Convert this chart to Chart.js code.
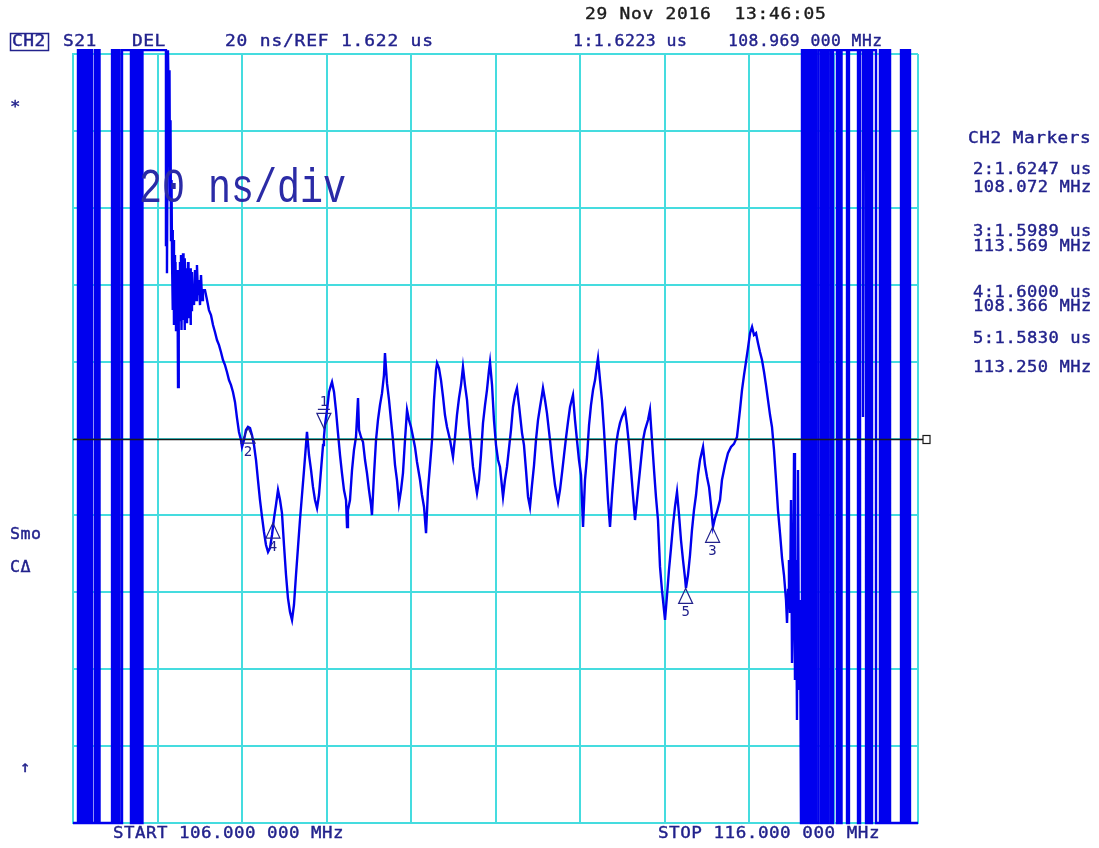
<!DOCTYPE html>
<html>
<head>
<meta charset="utf-8">
<script src="https://cdn.jsdelivr.net/npm/chart.js@4.4.0/dist/chart.umd.min.js"></script>
<style>
html, body { margin: 0; background: #fff; }
canvas { display: block; }
</style>
</head>
<body>
<canvas id="delayChart" width="1099" height="848"></canvas>
<script>
// Sweep / scale settings shown on the screen
const startMHz = 106;
const stopMHz = 116;
const refNs = 1622;
const nsPerDiv = 20;

// Left edge: trace off-scale, swinging between top and bottom of the screen
const leftNoiseMHz = [
  106.000,106.059,106.059,106.077,106.077,106.095,106.095,106.112,106.112,106.130,
  106.130,106.148,106.148,106.166,106.166,106.183,106.183,106.201,106.201,106.225,
  106.225,106.260,106.260,106.278,106.278,106.296,106.296,106.314,106.314,106.462,
  106.462,106.479,106.479,106.497,106.497,106.515,106.515,106.533,106.533,106.550,
  106.550,106.580,106.580,106.686,106.686,106.710,106.710,106.734,106.734,106.751,
  106.751,106.769,106.769,106.787,106.787,106.805,106.805,106.822,106.822,107.100,
  107.100,107.112,107.112,107.124
];
const leftNoiseNs = [
  1522,1522,1723,1723,1522,1522,1723,1723,1522,1522,
  1723,1723,1522,1522,1723,1723,1522,1522,1723,1723,
  1522,1522,1723,1723,1522,1522,1723,1723,1522,1522,
  1723,1723,1522,1522,1723,1723,1522,1522,1723,1723,
  1522,1522,1723,1723,1522,1522,1723,1723,1522,1522,
  1723,1723,1522,1522,1723,1723,1522,1522,1723,1723,
  1672,1723,1665,1723
];

// Passband group delay trace (ns)
const traceMHz = [
  107.130,107.136,107.142,107.148,107.154,107.160,107.166,107.172,107.178,107.183,
  107.189,107.195,107.201,107.207,107.213,107.219,107.225,107.231,107.237,107.243,
  107.249,107.254,107.260,107.266,107.272,107.278,107.284,107.290,107.296,107.302,
  107.308,107.314,107.320,107.325,107.331,107.337,107.343,107.349,107.355,107.361,
  107.367,107.373,107.379,107.385,107.391,107.396,107.402,107.408,107.414,107.420,
  107.432,107.444,107.456,107.467,107.479,107.491,107.503,107.515,107.527,107.538,
  107.562,107.586,107.609,107.633,107.657,107.680,107.704,107.728,107.751,107.775,
  107.799,107.822,107.846,107.870,107.893,107.917,107.941,107.964,107.988,108.000,
  108.024,108.047,108.071,108.095,108.118,108.142,108.166,108.189,108.213,108.237,
  108.260,108.284,108.308,108.331,108.355,108.379,108.402,108.426,108.450,108.473,
  108.497,108.521,108.544,108.568,108.592,108.615,108.639,108.663,108.686,108.710,
  108.734,108.757,108.769,108.793,108.817,108.840,108.864,108.888,108.911,108.935,
  108.959,108.970,108.982,109.006,109.030,109.053,109.065,109.089,109.112,109.136,
  109.160,109.183,109.207,109.231,109.243,109.254,109.278,109.302,109.325,109.349,
  109.373,109.385,109.408,109.432,109.456,109.479,109.503,109.527,109.538,109.562,
  109.586,109.609,109.633,109.657,109.680,109.692,109.716,109.740,109.763,109.787,
  109.811,109.834,109.858,109.882,109.905,109.929,109.953,109.976,110.000,110.024,
  110.047,110.071,110.107,110.130,110.154,110.178,110.201,110.225,110.249,110.272,
  110.296,110.308,110.331,110.355,110.379,110.402,110.426,110.462,110.497,110.521,
  110.544,110.568,110.592,110.615,110.639,110.663,110.686,110.710,110.734,110.757,
  110.781,110.805,110.828,110.852,110.876,110.899,110.923,110.935,110.959,110.982,
  111.006,111.030,111.053,111.089,111.112,111.136,111.160,111.183,111.207,111.231,
  111.254,111.278,111.314,111.337,111.361,111.385,111.408,111.432,111.456,111.479,
  111.503,111.527,111.550,111.562,111.586,111.609,111.645,111.669,111.704,111.740,
  111.763,111.787,111.811,111.834,111.858,111.882,111.917,111.941,111.964,111.988,
  112.012,112.036,112.059,112.083,112.107,112.130,112.154,112.178,112.201,112.213,
  112.237,112.260,112.284,112.308,112.331,112.355,112.379,112.402,112.426,112.450,
  112.473,112.497,112.533,112.556,112.580,112.604,112.627,112.651,112.675,112.698,
  112.722,112.746,112.769,112.805,112.828,112.852,112.876,112.899,112.923,112.947,
  112.970,112.982,113.006,113.030,113.053,113.077,113.101,113.124,113.148,113.172,
  113.195,113.219,113.243,113.254,113.278,113.302,113.325,113.349,113.373,113.396,
  113.420,113.456,113.479,113.503,113.527,113.550,113.574,113.598,113.621,113.657,
  113.680,113.716,113.751,113.787,113.822,113.858,113.893,113.917,113.941,113.964,
  113.988,114.012,114.036,114.059,114.083,114.107,114.130,114.154,114.178,114.201,
  114.225,114.249,114.272,114.296,114.320,114.343,114.367,114.391,114.414,114.438,
  114.450,114.462,114.473,114.485,114.497,114.509,114.521,114.533,114.544,114.556,
  114.568,114.580,114.592,114.604,114.615
];
const traceNs = [
  1712.6,1697.0,1717.8,1684.0,1704.8,1673.6,1689.2,1668.4,1676.2,1655.4,
  1673.6,1651.5,1669.7,1658.0,1667.9,1650.2,1665.8,1656.7,1660.6,1635.4,
  1658.0,1665.8,1652.8,1667.9,1655.4,1669.7,1650.2,1667.1,1658.0,1670.2,
  1652.8,1664.5,1650.2,1668.9,1656.7,1666.3,1652.3,1663.7,1658.0,1667.9,
  1653.3,1664.5,1659.3,1666.3,1651.5,1663.2,1655.4,1665.3,1658.0,1661.9,
  1656.7,1665.8,1658.0,1667.1,1659.3,1663.2,1656.7,1664.5,1658.0,1660.6,
  1660.6,1658.0,1655.4,1654.1,1651.5,1649.7,1647.6,1646.3,1644.5,1642.4,
  1641.1,1639.3,1637.2,1635.9,1634.1,1631.5,1627.3,1623.7,1621.6,1619.8,
  1621.6,1624.2,1625.0,1624.7,1622.9,1620.3,1616.4,1611.2,1606.0,1601.6,
  1597.7,1594.3,1592.5,1593.5,1596.9,1601.3,1604.7,1608.6,1606.0,1602.6,
  1594.3,1586.5,1580.5,1576.9,1574.8,1578.7,1586.5,1593.8,1600.8,1607.3,
  1613.8,1620.3,1623.7,1617.7,1613.8,1609.4,1606.0,1603.9,1607.3,1613.8,
  1620.3,1622.4,1625.5,1629.4,1634.1,1635.9,1636.7,1634.1,1629.4,1623.4,
  1617.7,1613.0,1608.6,1606.0,1599.0,1603.4,1606.0,1613.8,1619.0,1622.4,
  1632.5,1624.2,1622.4,1621.1,1616.4,1613.0,1608.6,1604.7,1602.1,1612.5,
  1621.6,1626.8,1630.7,1633.8,1638.5,1644.2,1636.4,1632.0,1626.8,1621.6,
  1615.1,1611.2,1605.2,1608.6,1613.0,1621.6,1629.4,1626.8,1625.0,1622.4,
  1619.8,1615.9,1611.2,1607.3,1604.2,1597.4,1608.6,1615.1,1621.6,1632.0,
  1639.8,1641.6,1640.3,1637.2,1632.8,1628.1,1625.0,1621.6,1617.2,1622.4,
  1628.1,1632.5,1635.9,1640.6,1635.9,1632.0,1625.5,1620.3,1614.6,1611.2,
  1607.8,1611.2,1617.7,1626.0,1630.7,1634.6,1639.8,1641.9,1635.9,1626.8,
  1620.3,1616.4,1614.6,1606.8,1611.2,1614.6,1619.5,1624.2,1630.2,1633.3,
  1635.1,1630.7,1623.4,1620.3,1613.8,1606.8,1604.2,1609.9,1615.1,1621.6,
  1626.8,1630.2,1633.3,1635.1,1632.0,1628.6,1621.6,1616.4,1609.9,1605.5,
  1608.6,1613.0,1617.7,1622.1,1626.3,1630.2,1633.3,1626.8,1621.6,1616.4,
  1612.5,1599.0,1611.2,1617.2,1625.5,1630.7,1634.6,1637.2,1641.1,1642.9,
  1637.2,1632.0,1624.2,1615.1,1606.0,1599.0,1607.3,1613.8,1620.3,1623.7,
  1626.0,1627.6,1629.4,1625.5,1620.3,1613.8,1607.3,1600.8,1606.0,1611.2,
  1616.4,1621.6,1624.2,1626.8,1629.4,1621.6,1613.8,1606.8,1600.8,1588.6,
  1582.6,1580.0,1574.8,1581.3,1587.8,1593.5,1599.5,1604.2,1608.1,1602.1,
  1595.6,1590.4,1585.7,1583.1,1586.5,1591.7,1598.2,1603.4,1607.3,1612.5,
  1616.4,1619.8,1615.1,1612.0,1609.4,1604.7,1599.0,1601.3,1602.9,1606.0,
  1611.2,1615.1,1618.2,1619.8,1620.6,1622.4,1629.4,1634.6,1638.5,1641.9,
  1645.5,1649.4,1651.0,1648.9,1649.4,1646.8,1644.5,1642.4,1639.3,1635.9,
  1632.0,1628.1,1625.0,1619.0,1611.2,1603.4,1597.4,1590.9,1586.5,1580.0,
  1574.0,1582.6,1590.4,1576.6,1606.0,1563.6,1580.0,1618.2,1559.2,1590.4,
  1548.8,1613.8,1556.6,1580.0,1522.0
];

// Right edge: trace off-scale again
const rightNoiseMHz = [
  114.627,114.627,114.651,114.651,114.669,114.669,114.686,114.686,114.704,114.704,
  114.722,114.722,114.740,114.740,114.757,114.757,114.775,114.775,114.793,114.793,
  114.822,114.822,114.852,114.852,114.870,114.870,114.888,114.888,114.905,114.905,
  114.923,114.923,114.941,114.941,114.970,114.970,114.994,114.994,115.041,115.041,
  115.059,115.059,115.077,115.077,115.095,115.095,115.160,115.160,115.183,115.183,
  115.290,115.290,115.314,115.314,115.349,115.349,115.360,115.385,115.385,115.408,
  115.408,115.432,115.432,115.456,115.456,115.503,115.503,115.550,115.550,115.574,
  115.574,115.598,115.598,115.621,115.621,115.645,115.645,115.669,115.669,115.799,
  115.799,115.822,115.822,115.846,115.846,115.870,115.870,115.893,115.893,115.905,
  115.905,116.000
];
const rightNoiseNs = [
  1522,1723,1723,1522,1522,1723,1723,1522,1522,1723,
  1723,1522,1522,1723,1723,1522,1522,1723,1723,1522,
  1522,1723,1723,1522,1522,1723,1723,1522,1522,1723,
  1723,1522,1522,1723,1723,1522,1522,1723,1723,1522,
  1522,1723,1723,1522,1522,1723,1723,1522,1522,1723,
  1723,1522,1522,1723,1723,1627.6,1723,1723,1522,1522,
  1723,1723,1522,1522,1723,1723,1522,1522,1723,1723,
  1522,1522,1723,1723,1522,1522,1723,1723,1522,1522,
  1723,1723,1522,1522,1723,1723,1522,1522,1723,1723,
  1522,1522
];

// Markers (1 is the active one)
const markerIds = ['1', '2', '3', '4', '5'];
const markerMHz = [108.969, 108.072, 113.569, 108.366, 113.250];
const markerNs = [1622.3, 1624.7, 1598.9, 1600.0, 1583.0];

const gridCyan = '#45dcdf';
const traceBlue = '#0000ee';
const textBlue = '#22228c';
const monoFont = '"DejaVu Sans Mono", "Liberation Mono", monospace';

const allMHz = leftNoiseMHz.concat(traceMHz, rightNoiseMHz);
const allNs = leftNoiseNs.concat(traceNs, rightNoiseNs);

// instrument style text: fixed cell per character, glyphs widened to fill the cell
function monoText(ctx, str, x, y, adv) {
    const sx = Math.min(1.12, adv / 10.1);
    for (let i = 0; i < str.length; i++) {
        ctx.save();
        ctx.translate(x + i * adv, y);
        ctx.scale(sx, 1);
        ctx.fillText(str[i], 0, 0);
        ctx.strokeText(str[i], 0, 0);
        ctx.restore();
    }
}

// Screen annotations, reference line and marker symbols
const screenText = {
    id: 'screenText',
    afterDatasetsDraw(chart) {
        const ctx = chart.ctx;
        const xs = chart.scales.x;
        const ys = chart.scales.y;
        const area = chart.chartArea;
        ctx.save();

        // reference line
        const yRef = Math.round(ys.getPixelForValue(refNs)) + 0.5;
        ctx.strokeStyle = '#1a1a1a';
        ctx.lineWidth = 1.5;
        ctx.beginPath();
        ctx.moveTo(area.left, yRef);
        ctx.lineTo(area.right + 5, yRef);
        ctx.stroke();
        ctx.lineWidth = 1.2;
        ctx.strokeRect(area.right + 5, yRef - 4, 7, 8);

        // marker triangles
        ctx.strokeStyle = textBlue;
        ctx.fillStyle = textBlue;
        ctx.lineWidth = 1.2;
        ctx.font = '14px ' + monoFont;
        ctx.textAlign = 'center';
        ctx.textBaseline = 'middle';
        markerMHz.forEach((f, i) => {
            const px = xs.getPixelForValue(f);
            const py = ys.getPixelForValue(markerNs[i]);
            ctx.beginPath();
            if (i === 0) {
                ctx.moveTo(px, py - 9);
                ctx.lineTo(px - 7, py - 24);
                ctx.lineTo(px + 7, py - 24);
                ctx.closePath();
                ctx.moveTo(px - 6, py - 28);
                ctx.lineTo(px + 6, py - 28);
                ctx.stroke();
                ctx.fillText(markerIds[i], px, py - 35);
            } else {
                ctx.moveTo(px, py);
                ctx.lineTo(px - 7, py + 15);
                ctx.lineTo(px + 7, py + 15);
                ctx.closePath();
                ctx.stroke();
                ctx.fillText(markerIds[i], px, py + 24);
            }
        });
        ctx.restore();
    },
    afterDraw(chart) {
        const ctx = chart.ctx;
        ctx.save();
        ctx.textAlign = 'left';
        ctx.textBaseline = 'middle';
        ctx.font = '16px ' + monoFont;
        ctx.lineWidth = 0.4;

        // date line
        ctx.fillStyle = '#1c1c1c';
        ctx.strokeStyle = '#1c1c1c';
        monoText(ctx, '29 Nov 2016  13:46:05', 585, 15, 11.5);

        // header line
        ctx.fillStyle = textBlue;
        ctx.strokeStyle = textBlue;
        ctx.lineWidth = 1.5;
        ctx.strokeRect(10.5, 33.5, 38, 17);
        ctx.lineWidth = 0.4;
        monoText(ctx, 'CH2', 12, 42, 11.3);
        monoText(ctx, 'S21', 63, 42, 11.3);
        monoText(ctx, 'DEL', 132, 42, 11.3);
        monoText(ctx, nsPerDiv + ' ns/REF ' + (refNs / 1000).toFixed(3) + ' us', 225, 42, 11.6);
        monoText(ctx, markerIds[0] + ':' + (markerNs[0] / 1000).toFixed(4) + ' us', 573, 42, 10.4);
        monoText(ctx, markerMHz[0].toFixed(3) + ' 000 MHz', 728, 42, 10.3);

        // left softkey annotations
        monoText(ctx, '*', 10, 108, 11);
        monoText(ctx, 'Smo', 10, 535, 10.5);
        monoText(ctx, 'C\u0394', 10, 568, 10.5);
        monoText(ctx, '\u2191', 20, 768, 11);

        // start / stop
        monoText(ctx, 'START ' + startMHz.toFixed(3) + ' 000 MHz', 113, 834, 11);
        monoText(ctx, 'STOP ' + stopMHz.toFixed(3) + ' 000 MHz', 658, 834, 11.1);

        // marker table
        monoText(ctx, 'CH2 Markers', 968, 139, 11.2);
        const rowY = [[170, 188], [232, 247], [293, 307], [339, 368]];
        for (let i = 1; i < markerIds.length; i++) {
            const r = rowY[i - 1];
            monoText(ctx, markerIds[i] + ':' + (markerNs[i] / 1000).toFixed(4) + ' us', 973, r[0], 10.8);
            monoText(ctx, markerMHz[i].toFixed(3) + ' MHz', 973, r[1], 10.8);
        }

        // big scale label
        ctx.fillStyle = '#2b2ba6';
        ctx.textBaseline = 'alphabetic';
        ctx.font = '48px "Liberation Mono", monospace';
        ctx.fillText(nsPerDiv + ' ns/div', 139, 202, 207);
        ctx.restore();
    }
};

new Chart(document.getElementById('delayChart'), {
    type: 'scatter',
    data: {
        datasets: [{
            label: 'S21 delay',
            data: allMHz.map((f, i) => ({ x: f, y: allNs[i] })),
            showLine: true,
            borderColor: traceBlue,
            borderWidth: 2.4,
            pointRadius: 0,
            tension: 0,
            clip: false
        }]
    },
    options: {
        responsive: false,
        animation: false,
        layout: { padding: { left: 73, right: 181, top: 54, bottom: 25 } },
        plugins: {
            legend: { display: false },
            tooltip: { enabled: false }
        },
        scales: {
            x: {
                type: 'linear',
                min: startMHz,
                max: stopMHz,
                ticks: { display: false, stepSize: 1 },
                grid: { color: gridCyan, lineWidth: 2, drawTicks: false },
                border: { color: gridCyan, width: 2 }
            },
            y: {
                type: 'linear',
                min: refNs - 5 * nsPerDiv,
                max: refNs + 5 * nsPerDiv,
                ticks: { display: false, stepSize: nsPerDiv },
                grid: { color: gridCyan, lineWidth: 2, drawTicks: false },
                border: { color: gridCyan, width: 2 }
            }
        }
    },
    plugins: [screenText]
});
</script>
</body>
</html>
